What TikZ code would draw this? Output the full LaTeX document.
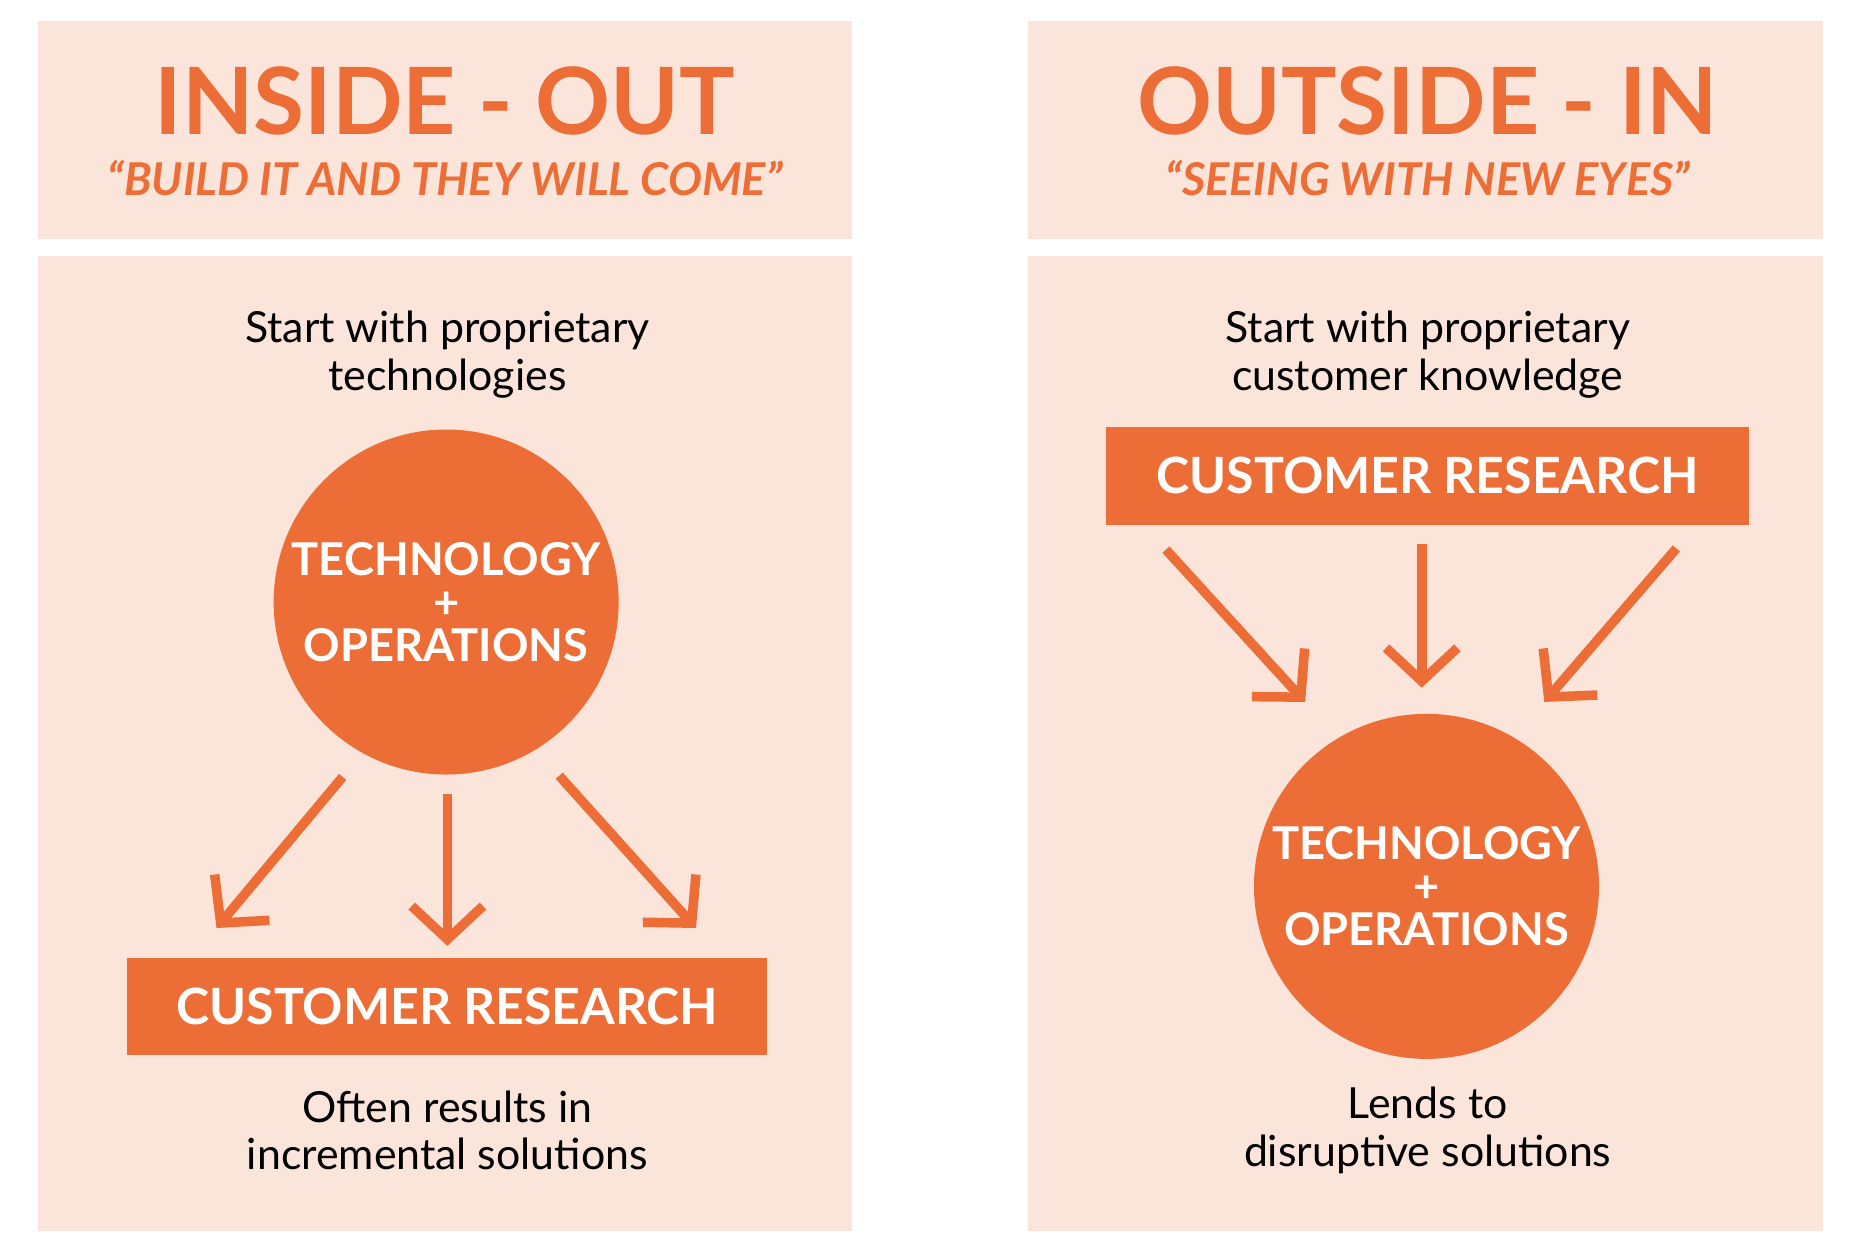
\documentclass[tikz,border=0pt]{standalone}
\usepackage{fontspec}
\setmainfont{Lato}
\usetikzlibrary{arrows.meta}
\definecolor{org}{HTML}{EC6D35}
\definecolor{bgp}{HTML}{FBE4DA}
\begin{document}
\begin{tikzpicture}[x=0.5pt,y=-0.5pt,
  panel/.style={fill=bgp,draw=none},
  title/.style={text=org,font=\bfseries\fontsize{39}{40}\selectfont},
  sub/.style={text=org,font=\bfseries\itshape\fontsize{19}{20}\selectfont},
  body/.style={align=center,font=\fontsize{18}{20}\selectfont},
  rbox/.style={fill=org,text=white,font=\bfseries\fontsize{21}{24}\selectfont,inner sep=0pt},
  circ/.style={circle,fill=org,text=white,align=center,font=\bfseries\fontsize{19}{19}\selectfont,inner sep=0pt},
  arr/.style={org,line width=4pt,-{Straight Barb[length=14pt,width=30pt,line width=4pt]}}]
\useasboundingbox (0,0) rectangle (1560,1045);
\fill[white] (0,0) rectangle (1560,1045);
\fill[panel] (32,18) rectangle (716,201);
\fill[panel] (864,18) rectangle (1532,201);
\fill[panel] (32,215) rectangle (716,1035);
\fill[panel] (864,215) rectangle (1532,1035);
\node[title] (t1) at (374,85) {INSIDE - OUT};
\node[sub] (s1) at (374,150) {“BUILD IT AND THEY WILL COME”};
\node[title] (t2) at (1200,85) {OUTSIDE - IN};
\node[sub] (s2) at (1200,150) {“SEEING WITH NEW EYES”};
% left
\node[body] (b1) at (376,298) {Start with proprietary\\technologies};
\node[circ,minimum size=145pt] (c1) at (375,506) {TECHNOLOGY\\[-1pt]+\\[-1pt]OPERATIONS};
\node[rbox,minimum width=269pt,minimum height=41pt] (r1) at (376,846) {CUSTOMER RESEARCH};
\node[body] (e1) at (376,950) {Often results in\\incremental solutions};
\coordinate (a1s) at (288,653); \coordinate (a1e) at (182,780);
\coordinate (a2s) at (376,667); \coordinate (a2e) at (376,795);
\coordinate (a3s) at (470,652); \coordinate (a3e) at (585,780);
\draw[arr] (a1s) -- (a1e);
\draw[arr] (a2s) -- (a2e);
\draw[arr] (a3s) -- (a3e);
% right
\node[body] (b2) at (1200,298) {Start with proprietary\\customer knowledge};
\node[rbox,minimum width=270pt,minimum height=41pt] (r2) at (1200,400) {CUSTOMER RESEARCH};
\node[circ,minimum size=145pt] (c2) at (1199,745) {TECHNOLOGY\\[-1pt]+\\[-1pt]OPERATIONS};
\node[body] (e2) at (1200,950) {Lends to\\disruptive solutions};
\coordinate (b1s) at (980,462); \coordinate (b1e) at (1097,590);
\coordinate (b2s) at (1195,457); \coordinate (b2e) at (1195,578);
\coordinate (b3s) at (1409,461); \coordinate (b3e) at (1298,590);
\draw[arr] (b1s) -- (b1e);
\draw[arr] (b2s) -- (b2e);
\draw[arr] (b3s) -- (b3e);
\end{tikzpicture}
\end{document}
